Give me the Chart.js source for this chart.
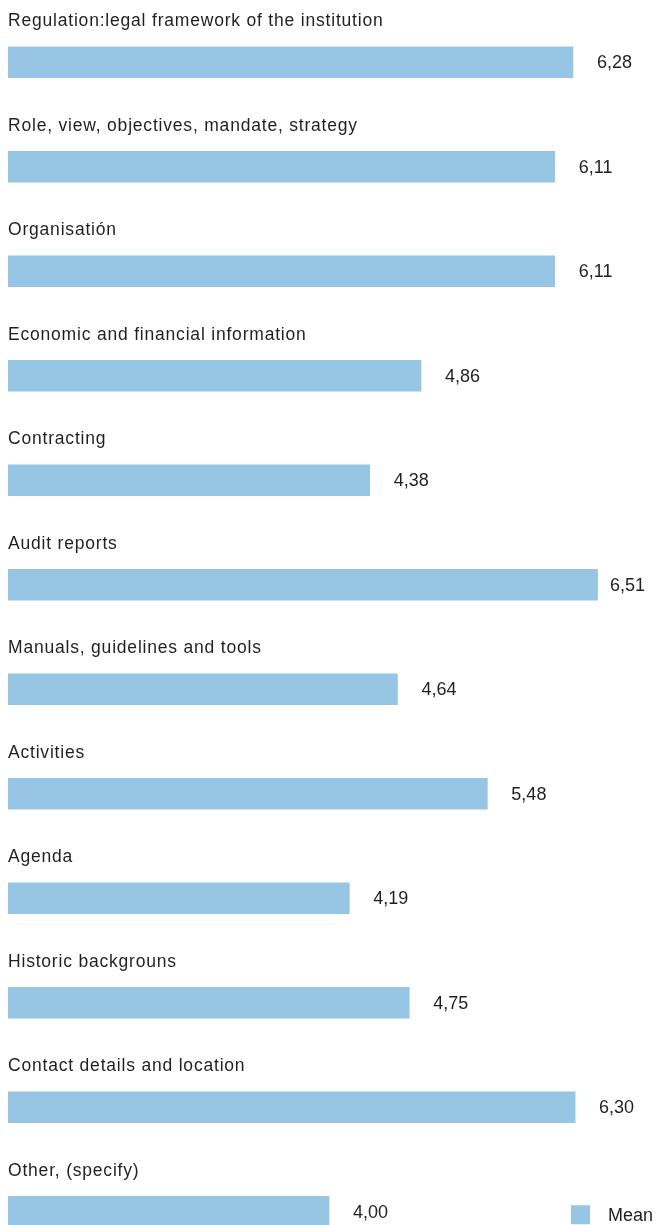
<!DOCTYPE html>
<html>
<head>
<meta charset="utf-8">
<script src="https://cdn.jsdelivr.net/npm/chart.js@4/dist/chart.umd.min.js"></script>
<style>
  html, body { margin: 0; padding: 0; background: #fff; overflow: hidden; }
  #wrap { position: relative; width: 657px; height: 1275px; }
</style>
</head>
<body>
<div id="wrap"><canvas id="meanChart"></canvas></div>
<script>
const categories = [
    'Regulation:legal framework of the institution',
    'Role, view, objectives, mandate, strategy',
    'Organisatión',
    'Economic and financial information',
    'Contracting',
    'Audit reports',
    'Manuals, guidelines and tools',
    'Activities',
    'Agenda',
    'Historic backgrouns',
    'Contact details and location',
    'Other, (specify)',
];
const meanValues = [6.28, 6.11, 6.11, 4.86, 4.38, 6.51, 4.64, 5.48, 4.19, 4.75, 6.30, 4.00];
const seriesName = 'Mean';

const FONT = '"Liberation Sans", Arial, sans-serif';
const TEXT = '#231f20';
const BAR = '#96c6e3';

// labels above each bar, value to the right, legend bottom right
const annotate = {
    id: 'annotate',
    afterDatasetsDraw(chart) {
        const { ctx, chartArea } = chart;
        const meta = chart.getDatasetMeta(0);
        const y = chart.scales.y;
        ctx.save();
        ctx.fillStyle = TEXT;
        ctx.textAlign = 'left';
        ctx.textBaseline = 'alphabetic';
        categories.forEach((name, i) => {
            const cy = y.getPixelForValue(i);
            ctx.font = '17.5px ' + FONT;
            ctx.letterSpacing = '0.8px';
            ctx.fillText(name, 8, cy - 36);
            ctx.font = '18px ' + FONT;
            ctx.letterSpacing = '0px';
            const txt = meanValues[i].toFixed(2).replace('.', ',');
            const w = ctx.measureText(txt).width;
            // keep the value inside the plot on the longest bars
            const x = Math.min(meta.data[i].x + 24, chartArea.right - 5 - w);
            ctx.fillText(txt, x, cy + 6);
        });
        const last = y.getPixelForValue(categories.length - 1);
        ctx.fillStyle = BAR;
        ctx.fillRect(571, last - 6.5, 19, 19);
        ctx.fillStyle = TEXT;
        ctx.font = '18px ' + FONT;
        ctx.fillText(seriesName, 608, last + 9);
        ctx.restore();
    },
};

new Chart(document.getElementById('meanChart'), {
    type: 'bar',
    data: {
        labels: categories,
        datasets: [{
            label: seriesName,
            data: meanValues,
            backgroundColor: BAR,
            base: 1,
            barThickness: 31,
        }],
    },
    options: {
        indexAxis: 'y',
        responsive: true,
        maintainAspectRatio: false,
        animation: false,
        layout: { padding: { top: 10, left: 8, right: 7, bottom: 11 } },
        plugins: {
            legend: { display: false },
            tooltip: { enabled: false },
        },
        scales: {
            x: {
                min: 1,
                max: 7,
                display: false,
            },
            y: {
                display: false,
            },
        },
    },
    plugins: [annotate],
});
</script>
</body>
</html>
